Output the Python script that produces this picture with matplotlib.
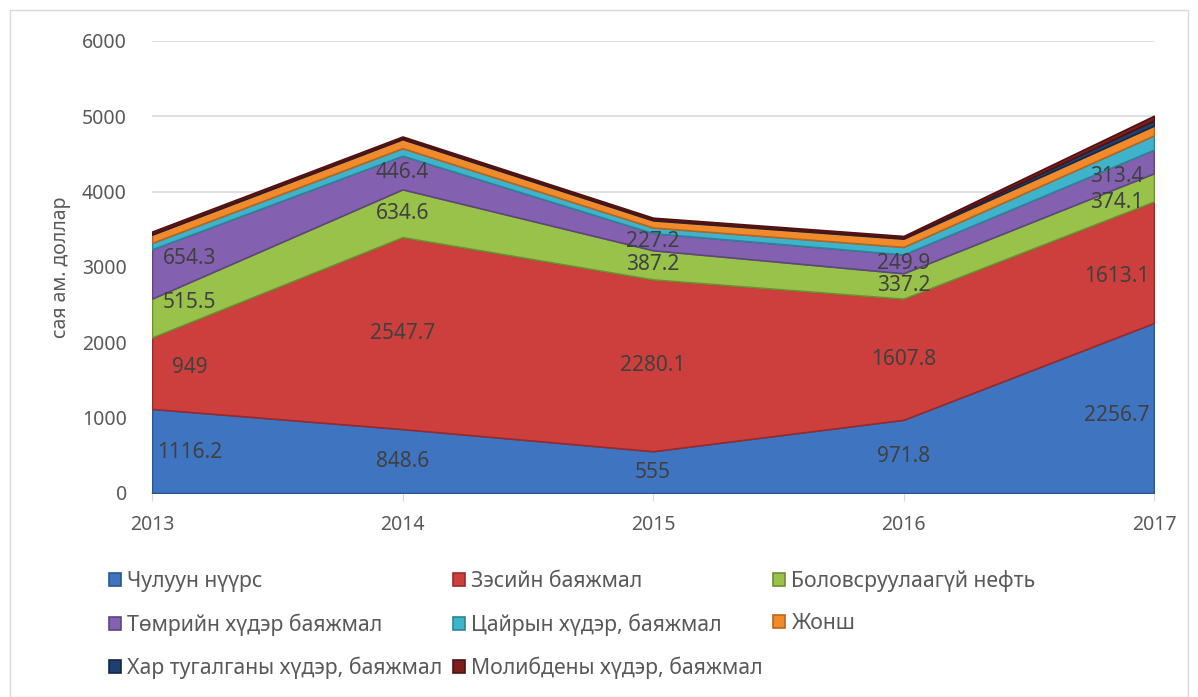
import numpy as np
import matplotlib.pyplot as plt
from matplotlib.patches import Rectangle

plt.rcParams['font.family'] = ['Noto Sans', 'DejaVu Sans']

years = [2013, 2014, 2015, 2016, 2017]
coal = [1116.2, 848.6, 555, 971.8, 2256.7]
copper = [949, 2547.7, 2280.1, 1607.8, 1613.1]
crude_oil = [515.5, 634.6, 387.2, 337.2, 374.1]
iron_ore = [654.3, 446.4, 227.2, 249.9, 313.4]
zinc = [85, 100, 75, 100, 190]          # unlabeled, estimated
fluorspar = [110, 120, 95, 110, 130]    # unlabeled, estimated
lead = [10, 10, 10, 10, 70]             # unlabeled, estimated
molybdenum = [30, 25, 25, 25, 60]       # unlabeled, estimated

names = ["Чулуун нүүрс", "Зэсийн баяжмал", "Боловсруулаагүй нефть",
         "Төмрийн хүдэр баяжмал", "Цайрын хүдэр, баяжмал", "Жонш",
         "Хар тугалганы хүдэр, баяжмал", "Молибдены хүдэр, баяжмал"]
colors = ["#3f74c0", "#cc3f3c", "#99c24a", "#8461b0",
          "#3fb3cc", "#f08a2a", "#1f3f6e", "#7a1f1c"]
edges = ["#2b5590", "#992a28", "#6f8f30", "#5e4480",
         "#2a8599", "#b9661c", "#12284a", "#4f1210"]

series = [coal, copper, crude_oil, iron_ore, zinc, fluorspar, lead, molybdenum]
labeled = 4

fig = plt.figure(figsize=(11.98, 6.97), dpi=100)
fig.patches.append(Rectangle((10 / 1198, 0), 1 - 20 / 1198, 1 - 10 / 697,
                             transform=fig.transFigure, fill=False,
                             edgecolor="#d9d9d9", lw=1))
ax = fig.add_axes([152 / 1198, 1 - 493 / 697, (1154 - 152) / 1198, (493 - 41) / 697])

ys = np.array(series)
cum = np.vstack([np.zeros(len(years)), np.cumsum(ys, axis=0)])
x = np.array(years, float)
for i in range(len(series)):
    ax.fill_between(x, cum[i], cum[i + 1], facecolor=colors[i], edgecolor=edges[i],
                    lw=1.2, zorder=3, label=names[i])

# data labels for the four largest series
for i in range(labeled):
    for j, yr in enumerate(years):
        if j == 0:
            lx = yr + 0.15
        elif j == len(years) - 1:
            lx = yr - 0.15
        else:
            lx = yr
        mid = np.interp(lx, x, (cum[i] + cum[i + 1]) / 2)
        v = series[i][j]
        ax.text(lx, mid, f"{v:g}", ha="center", va="center", fontsize=15,
                color="#404040", zorder=5)

ax.set_xlim(2013, 2017)
ax.set_ylim(0, 6000)
ax.set_yticks(range(0, 6001, 1000))
ax.set_xticks(years)
ax.grid(axis="y", color="#d9d9d9", lw=1.2, zorder=0)
for s in ["top", "right", "left"]:
    ax.spines[s].set_visible(False)
ax.spines["bottom"].set_color("#d9d9d9")
ax.spines["bottom"].set_linewidth(1.2)
ax.tick_params(axis="y", length=0, labelsize=14, labelcolor="#595959", pad=18)
ax.tick_params(axis="x", length=6, color="#d9d9d9", labelsize=14,
               labelcolor="#595959", pad=10)
ax.set_ylabel("сая ам. доллар", fontsize=14, color="#595959", labelpad=8)

order = [0, 3, 6, 1, 4, 7, 2, 5]
h, l = ax.get_legend_handles_labels()
fig.legend([h[k] for k in order], [l[k] for k in order], ncol=3,
           loc="upper left", bbox_to_anchor=(90 / 1198, 1 - 551 / 697),
           frameon=False, fontsize=15.3, labelcolor="#595959",
           handlelength=0.55, handleheight=0.55, handletextpad=0.3,
           columnspacing=0.5, labelspacing=1.0)

fig.savefig("out.png", dpi=100)
